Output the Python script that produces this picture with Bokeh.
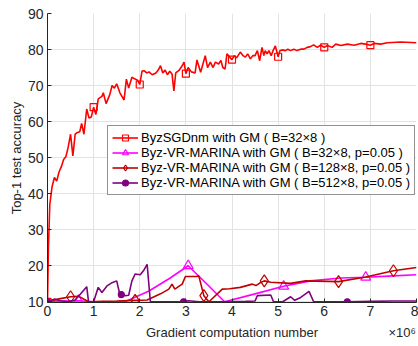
from bokeh.plotting import figure
from bokeh.models import Legend, LegendItem, Range1d, FixedTicker, LinearAxis
from bokeh.embed import file_html
from bokeh.resources import INLINE

# ---- data (x in units of 1e6 gradient computations) ----
sgd_x = [0, 0.02, 0.05, 0.1, 0.15, 0.2, 0.25, 0.3, 0.35, 0.4, 0.45, 0.5, 0.55, 0.6, 0.65,
         0.7, 0.74, 0.79, 0.85, 0.9, 0.95, 1.0, 1.05, 1.1, 1.18, 1.21, 1.27, 1.35, 1.4, 1.45,
         1.5, 1.57, 1.66, 1.71, 1.76, 1.83, 1.9, 1.95, 2.0, 2.05, 2.1, 2.15, 2.2, 2.27, 2.35,
         2.4, 2.45, 2.5, 2.55, 2.6, 2.65, 2.7, 2.74, 2.78, 2.85, 2.92, 2.96, 3.0, 3.05, 3.12,
         3.2, 3.24, 3.32, 3.42, 3.47, 3.53, 3.59, 3.64, 3.71, 3.76, 3.8, 3.85, 3.89, 3.95, 4.0,
         4.05, 4.1, 4.18, 4.24, 4.29, 4.34, 4.4, 4.45, 4.5, 4.55, 4.6, 4.65, 4.69, 4.72, 4.76,
         4.8, 4.85, 4.89, 4.94, 5.0, 5.04, 5.09, 5.16, 5.21, 5.27, 5.34, 5.41, 5.49, 5.56, 5.63,
         5.7, 5.77, 5.85, 5.92, 6.0, 6.07, 6.17, 6.25, 6.36, 6.5, 6.65, 6.79, 6.9, 7.0, 7.08,
         7.22, 7.37, 7.66, 8.0]
sgd_y = [10, 25, 37, 42, 44.5, 43.5, 46, 47.5, 49.5, 50.3, 53, 56.5, 50.5, 56.5, 57,
         57.2, 59.5, 56.5, 63.5, 61, 61.3, 64, 62, 66.3, 67, 68, 65, 67.5, 70, 69.3,
         70.5, 68, 66, 71.8, 69.3, 72.3, 71.8, 71.5, 70.3, 74, 74.1, 73.5, 73.8, 73, 73.5,
         74.3, 75.5, 73.5, 74.3, 73, 74, 73.2, 68.5, 73.5, 74.2, 75.5, 76.5, 73.3, 75, 73.8,
         73.5, 77.1, 73.7, 78.3, 75, 76.5, 75, 76.5, 76, 77, 75, 74.6, 78.8, 77.9, 77.2,
         78.3, 77.7, 79.3, 78.3, 77.9, 78.8, 77.4, 78.3, 78.3, 79.7, 76.9, 80.6, 78.3, 79.7, 78.8,
         79.7, 78.3, 79.7, 81, 78, 79.7, 79.9, 79.7, 80.1, 79.7, 80.1, 79.7, 80.1, 80.1, 80.6,
         80.8, 81.3, 80.6, 81.2, 80.6, 81.1, 80.6, 81.5, 81.1, 81.5, 81.2, 81.7, 81.5, 81.2, 81.7,
         81.5, 81.9, 82.1, 81.9]
sgd_marks = [0, 1, 2, 3, 4, 5, 6, 7]

m32_x = [0, 0.3, 0.67, 1.0, 1.3, 1.68, 2.2, 2.66, 3.05, 3.45, 3.84, 4.5, 5.12, 5.7, 6.36, 6.9, 7.5, 8.0]
m32_y = [10, 10.2, 10.3, 10, 10, 10, 13, 16.6, 20, 15, 10, 12.2, 14.3, 15.8, 16.6, 16.8, 17.2, 17.5]
m32_marks = [0.67, 3.05, 5.12, 6.9]

m128_x = [0, 0.25, 0.5, 0.68, 0.89, 1.2, 1.5, 1.9, 2.16, 2.45, 2.63, 2.7, 2.76, 2.92, 2.99,
          3.24, 3.28, 3.39, 3.5, 3.79, 3.95, 4.18, 4.44, 4.52, 4.6, 4.7, 4.84, 5.27, 5.6, 6.31,
          6.9, 7.5, 8.0]
m128_y = [10, 10.8, 11.4, 11.5, 10, 10.1, 10.2, 10.4, 10.5, 12.2, 13.5, 14.9, 13.5, 14.9, 17,
          17, 17.2, 11.7, 10, 13.5, 13.6, 14, 14.9, 14.5, 15.2, 15.8, 15.4, 15.1, 15.8, 15.6,
          16.9, 18.6, 19.5]
m128_marks = [0.5, 1.9, 3.39, 4.7, 6.31, 7.5]

m512_x = [0, 0.16, 0.27, 0.45, 0.6, 0.71, 0.85, 0.89, 1.0, 1.1, 1.18, 1.29, 1.4, 1.5, 1.56,
          1.6, 1.68, 1.76, 1.83, 1.9, 2.01, 2.08, 2.16, 2.23, 2.6, 2.95, 3.05, 3.3, 3.8, 4.3,
          4.5, 4.55, 4.84, 4.9, 5.1, 5.27, 5.36, 5.49, 5.67, 5.77, 6.0, 6.5, 7.0, 7.5, 8.0]
m512_y = [10, 10.8, 10.3, 10, 10.5, 12.1, 14.2, 10, 10, 14, 12.6, 14.4, 15.3, 15.8, 12.5,
          12, 11.7, 11.8, 15.8, 17.7, 17.5, 18.6, 20.4, 10, 10, 10, 10.3, 10, 10, 10.1,
          10.2, 11.7, 11.9, 10, 10, 11.4, 10.4, 11.2, 12.9, 10, 10, 10, 10.1, 10.2, 10.2]
m512_marks = [0, 1.6, 2.95, 6.5]

labels = ["ByzSGDnm with GM ( B=32\u00d78 )",
          "Byz-VR-MARINA with GM ( B=32\u00d78, p=0.05 )",
          "Byz-VR-MARINA with GM ( B=128\u00d78, p=0.05 )",
          "Byz-VR-MARINA with GM ( B=512\u00d78, p=0.05 )"]
x_ticks = [0, 1, 2, 3, 4, 5, 6, 7, 8]
y_ticks = [10, 20, 30, 40, 50, 60, 70, 80, 90]
x_title = "Gradient computation number"
x_scale_note = "\u00d710\u2076"
y_title = "Top-1 test accuracy"

FONT = "Liberation Sans"
AX = "#262626"

p = figure(width=418, height=346, output_backend="svg", toolbar_location=None,
           x_range=Range1d(0, 8), y_range=Range1d(9.8, 90),
           min_border_left=47, min_border_right=2, min_border_top=13, min_border_bottom=44)
p.outline_line_color = None
p.background_fill_color = "white"

for ax in (p.xaxis[0], p.yaxis[0]):
    ax.axis_line_color = AX
    ax.major_tick_line_color = AX
    ax.major_tick_in = 4
    ax.major_tick_out = 0
    ax.minor_tick_line_color = None
    ax.major_label_text_font = FONT
    ax.major_label_text_font_size = "14px"
    ax.major_label_text_color = AX
    ax.axis_label_text_font = FONT
    ax.axis_label_text_font_size = "13px"
    ax.axis_label_text_font_style = "normal"
    ax.axis_label_text_color = AX

p.xaxis.ticker = FixedTicker(ticks=x_ticks)
p.yaxis.ticker = FixedTicker(ticks=y_ticks)
p.yaxis.axis_label = y_title
p.xaxis.major_label_standoff = 3
p.yaxis.major_label_standoff = 4
p.yaxis.axis_label_standoff = 1

# second row below the x axis: axis title centred plus the x10^6 scale note at the right
title_pos = (x_ticks[0] + x_ticks[-1]) / 2
note_pos = 7.6875
extra = LinearAxis(ticker=FixedTicker(ticks=[title_pos, note_pos]),
                   major_label_overrides={title_pos: x_title, note_pos: x_scale_note},
                   axis_line_color=None, major_tick_line_color=None,
                   minor_tick_line_color=None, major_label_standoff=0,
                   major_label_text_font=FONT, major_label_text_font_size="13px",
                   major_label_text_color=AX)
p.add_layout(extra, "below")

p.xgrid.grid_line_color = "#e3e3e3"
p.ygrid.grid_line_color = "#e3e3e3"

series = [
    (sgd_x, sgd_y, sgd_marks, "#ff0000", "square", 7, False),
    (m32_x, m32_y, m32_marks, "#ff00ff", "triangle", 10, False),
    (m128_x, m128_y, m128_marks, "#c00000", "diamond", 12, False),
    (m512_x, m512_y, m512_marks, "#800080", "circle", 6, True),
]

items = []
for (xs, ys, marks, col, mk, sz, filled), lab in zip(series, labels):
    lr = p.line(xs, ys, line_color=col, line_width=1.6)
    mx = [x for x in xs if x in marks]
    my = [y for x, y in zip(xs, ys) if x in marks]
    sr = p.scatter(mx, my, marker=mk, size=sz, line_color=col, line_width=1.2,
                   fill_color=col, fill_alpha=1.0 if filled else 0.0)
    items.append(LegendItem(label=lab, renderers=[lr, sr]))

legend = Legend(items=items, location=(60, 107), orientation="vertical",
                label_text_font=FONT, label_text_font_size="13px", label_text_color="#000000",
                label_height=15, glyph_height=15, glyph_width=26, label_standoff=3,
                spacing=0, padding=4, margin=0,
                border_line_color=AX, border_line_width=1,
                background_fill_color="white", background_fill_alpha=1.0)
p.add_layout(legend, "center")

open("out.html", "w").write(file_html(p, INLINE))
